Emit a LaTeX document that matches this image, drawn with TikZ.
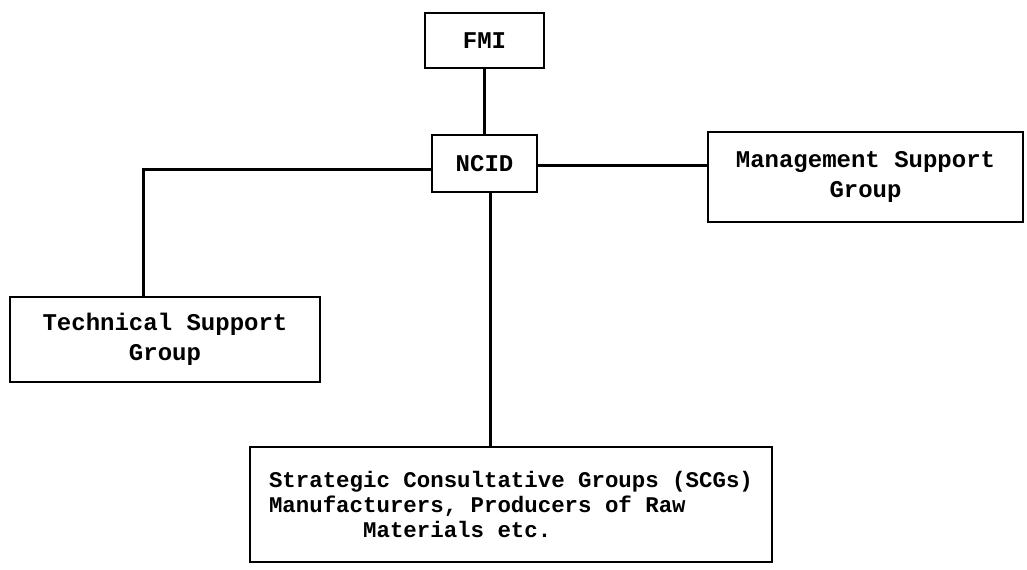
\documentclass[tikz,border=0pt]{standalone}
\usepackage{fontspec}
\setmonofont{Liberation Mono}
\usepackage{tikz}
\usetikzlibrary{
    positioning,
    calc
}

\begin{document}
\begin{tikzpicture}[
        x=0.5pt, y=-0.5pt,
        block/.style={
            rectangle,
            draw,
            line width=1.3pt,
            align=center,
            font=\ttfamily\bfseries\fontsize{12}{15}\selectfont,
            inner sep=2pt
        },
        line/.style={
            line width=1.5pt
        }
    ]

    \useasboundingbox (0,0) rectangle (1027,569);

    \node[block, minimum width=52.5pt, minimum height=28.5pt] (ncid)
        at (484.5,163.5) {NCID};

    \node[block, minimum width=59.5pt, minimum height=27.5pt] (fmi)
        at (484.5,40.5) {FMI};

    \node[block, minimum width=157.5pt, minimum height=45pt] (mgmt)
        at (865.5,177) {Management Support\\Group};

    \node[block, minimum width=155pt, minimum height=42.5pt] (tech)
        at (165,339.5) {Technical Support\\Group};

    \node[block, minimum width=261pt, minimum height=57.5pt, align=left,
          font=\ttfamily\bfseries\fontsize{11.2}{12.5}\selectfont] (scg)
        at (511,504.5)
        {Strategic Consultative Groups (SCGs)\\
         Manufacturers, Producers of Raw\\
         \hspace*{4.2em}Materials etc.};

    \draw[line] (fmi) -- (ncid);
    \draw[line] ([yshift=-1pt]ncid.east) -- ([yshift=-1pt]ncid.east -| mgmt.west);
    \draw[line] ([yshift=-3pt]ncid.west) -| ([xshift=-11pt]tech.north);
    \draw[line] ([xshift=3pt]ncid.south) -- ([xshift=3pt]ncid.south |- scg.north);

\end{tikzpicture}
\end{document}
